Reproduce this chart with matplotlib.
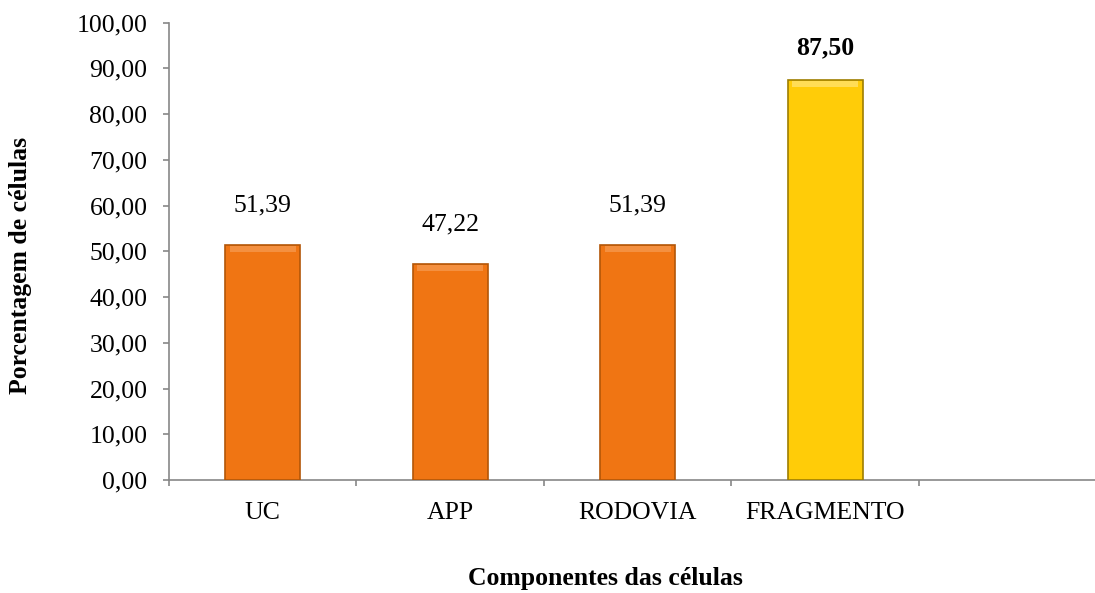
import matplotlib
matplotlib.use("Agg")
from matplotlib import pyplot as plt
from matplotlib.ticker import FuncFormatter, FixedLocator

# data
categorias = ["UC", "APP", "RODOVIA", "FRAGMENTO"]
valores = [51.39, 47.22, 51.39, 87.50]
destaque = [False, False, False, True]

plt.rcParams['font.family'] = ['Liberation Serif', 'DejaVu Serif']

cor_normal = "#F07513"
borda_normal = "#B35608"
cor_dest = "#FFCC08"
borda_dest = "#9E7E00"
cinza = "#878787"
fs = 18.5

fig = plt.figure(figsize=(10.95, 5.93), dpi=100)
ax = fig.add_axes([0.1543, 0.1906, 0.8457, 0.7711])

x = list(range(len(categorias)))
cores = [cor_dest if d else cor_normal for d in destaque]
bordas = [borda_dest if d else borda_normal for d in destaque]
bars = ax.bar(x, valores, width=0.4, color=cores, edgecolor=bordas, linewidth=1.2, zorder=3)

# light bevel at top of each bar (subtle)
for b, d in zip(bars, destaque):
    h = b.get_height()
    ax.bar(b.get_x() + b.get_width() / 2, 1.2, bottom=h - 1.5,
           width=b.get_width() * 0.88, color="#FFDD55" if d else "#F49040",
           linewidth=0, zorder=4)

for b, v, d in zip(bars, valores, destaque):
    txt = f"{v:.2f}".replace(".", ",")
    ax.annotate(txt, (b.get_x() + b.get_width() / 2, v),
                xytext=(0, 32 if d else 40), textcoords="offset pixels",
                ha="center", va="center", fontsize=fs,
                fontweight="bold" if d else "normal")

ax.set_xlim(-0.5, 4.44)
ax.set_ylim(0, 100)
ax.set_yticks(range(0, 101, 10))
ax.yaxis.set_major_formatter(FuncFormatter(lambda v, p: f"{v:.2f}".replace(".", ",")))

ax.set_xticks(x)
ax.set_xticklabels(categorias)
ax.xaxis.set_minor_locator(FixedLocator([i - 0.5 for i in range(len(categorias) + 1)]))
ax.tick_params(axis="x", which="major", length=0, pad=16, labelsize=fs)
ax.tick_params(axis="x", which="minor", length=4.5, color=cinza, width=1.2)
ax.tick_params(axis="y", length=4.5, color=cinza, width=1.2, labelsize=fs, pad=11)

for s in ["top", "right"]:
    ax.spines[s].set_visible(False)
for s in ["left", "bottom"]:
    ax.spines[s].set_color(cinza)
    ax.spines[s].set_linewidth(1.2)

fig.text(21 / 1095, 1 - 265 / 593, "Porcentagem de células", rotation=90,
         ha="center", va="center", fontsize=fs, fontweight="bold")
fig.text(605 / 1095, 1 - 578 / 593, "Componentes das células",
         ha="center", va="center", fontsize=fs, fontweight="bold")

fig.savefig("out.png", dpi=100)
